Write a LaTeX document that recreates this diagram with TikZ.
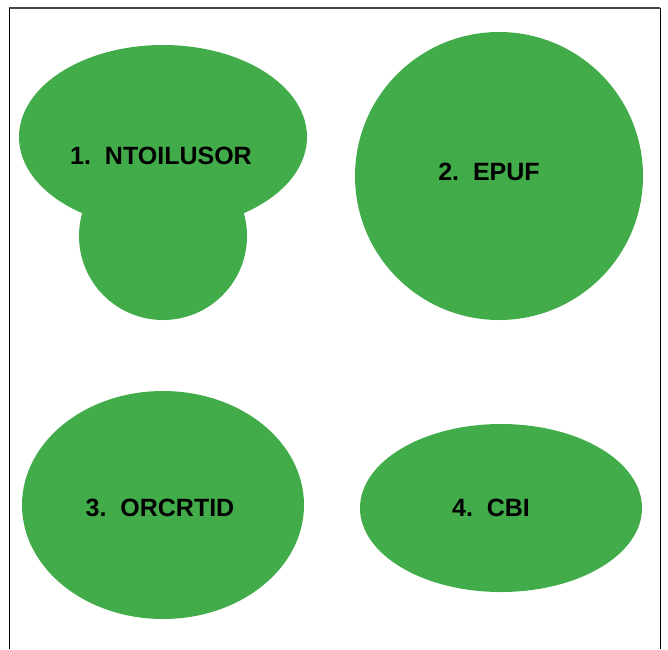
\documentclass[tikz,border=0pt]{standalone}
\usepackage{fontspec}
\setmainfont{Liberation Sans}
\usetikzlibrary{shapes.geometric}
\definecolor{blobgreen}{HTML}{43AC4A}
\definecolor{framegray}{HTML}{444444}
\begin{document}
\begin{tikzpicture}[x=1pt,y=-1pt,
  blob/.style={ellipse,fill=blobgreen,draw=none,inner sep=0pt},
  lbl/.style={font=\fontsize{25}{28}\selectfont\bfseries,text=black,inner sep=0pt}]
\useasboundingbox (0,0) rectangle (668,649);
\draw[framegray,line width=1.4pt] (9,8) -- (660,8);
\draw[black,line width=1pt] (9,8) -- (9,649);
\draw[black,line width=1pt] (660,8) -- (660,649);
\node[blob,minimum width=288,minimum height=184] (b1a) at (163,137) {};
\node[blob,minimum width=168,minimum height=168] (b1b) at (163,236) {};
\node[blob,minimum width=288,minimum height=288] (b2) at (499,176) {};
\node[blob,minimum width=282,minimum height=228] (b3) at (163,505) {};
\node[blob,minimum width=282,minimum height=168] (b4) at (501,508) {};
\node[lbl] (t1) at (161,156) {1.\ \ NTOILUSOR};
\node[lbl] (t2) at (489,172) {2.\ \ EPUF};
\node[lbl] (t3) at (160,508) {3.\ \ ORCRTID};
\node[lbl] (t4) at (491,508) {4.\ \ CBI};
\end{tikzpicture}
\end{document}
